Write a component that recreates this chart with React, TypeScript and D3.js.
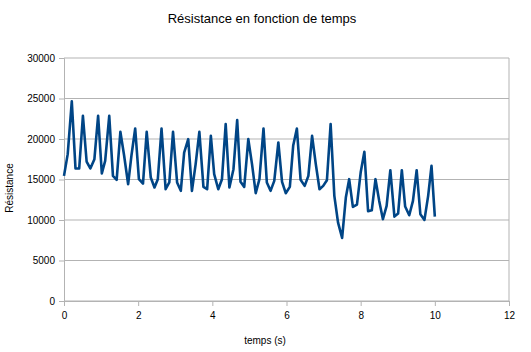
import { useRef, useEffect } from 'react';
import * as d3 from 'd3';

const times = [
  0, 0.1, 0.21, 0.31, 0.41, 0.51, 0.61, 0.71, 0.82, 0.92,
  1.02, 1.11, 1.22, 1.32, 1.42, 1.52, 1.62, 1.73, 1.82, 1.92,
  2.02, 2.13, 2.23, 2.34, 2.44, 2.53, 2.63, 2.74, 2.84, 2.94,
  3.05, 3.15, 3.24, 3.35, 3.45, 3.55, 3.65, 3.76, 3.86, 3.96,
  4.05, 4.16, 4.26, 4.36, 4.46, 4.57, 4.67, 4.76, 4.86, 4.97,
  5.07, 5.17, 5.27, 5.38, 5.47, 5.57, 5.67, 5.78, 5.88, 5.98,
  6.09, 6.18, 6.28, 6.38, 6.49, 6.59, 6.69, 6.79, 6.89, 6.99,
  7.09, 7.19, 7.29, 7.39, 7.5, 7.6, 7.69, 7.79, 7.9, 8.0,
  8.1, 8.2, 8.3, 8.4, 8.5, 8.6, 8.7, 8.8, 8.91, 9.01,
  9.11, 9.2, 9.31, 9.41, 9.51, 9.61, 9.72, 9.82, 9.91, 10.0,
];

const resistance = [
  15450, 18130, 24640, 16360, 16360, 22870, 17220, 16360, 17510, 22870,
  15740, 17300, 22870, 15450, 14960, 20890, 18000, 14420, 18000, 21300,
  15040, 14500, 20890, 15240, 14010, 15040, 21300, 13800, 14630, 20890,
  14630, 13600, 18330, 19980, 13600, 16900, 20890, 14090, 13800, 20390,
  15660, 13800, 15040, 21840, 14010, 16270, 22330, 14710, 14090, 19980,
  16900, 13310, 15040, 21300, 14630, 13600, 14830, 19570, 14710, 13310,
  14090, 19160, 21300, 14960, 14210, 15450, 20390, 16900, 13800, 14210,
  14910, 21840, 12980, 9680, 7790, 12770, 15040, 11620, 11910, 15860,
  18420, 11080, 11200, 15040, 12360, 10090, 11740, 16150, 10420, 10790,
  16150, 11660, 10590, 12360, 16150, 10710, 10010, 12980, 16690, 10420,
];

const xTicks = [0, 2, 4, 6, 8, 10, 12];
const yTicks = [0, 5000, 10000, 15000, 20000, 25000, 30000];

const title = 'Résistance en fonction de temps';
const xTitle = 'temps (s)';
const yTitle = 'Résistance';

export default function App() {
  const svgRef = useRef<SVGSVGElement>(null);

  useEffect(() => {
    if (!svgRef.current) return;
    const svg = d3.select(svgRef.current);
    svg.selectAll('*').remove();

    const font = '"Liberation Sans", Arial, sans-serif';
    const left = 64, right = 509, top = 58, bottom = 301;
    const gridColor = '#b3b3b3';

    const x = d3.scaleLinear().domain([0, 12]).range([left, right]);
    const y = d3.scaleLinear().domain([0, 30000]).range([bottom, top]);

    // horizontal grid
    svg.append('g')
      .selectAll('line')
      .data(yTicks)
      .join('line')
      .attr('x1', left)
      .attr('x2', right)
      .attr('y1', d => y(d))
      .attr('y2', d => y(d))
      .attr('stroke', gridColor)
      .attr('stroke-width', 1);

    // right border of the wall
    svg.append('line')
      .attr('x1', right).attr('x2', right)
      .attr('y1', top).attr('y2', bottom)
      .attr('stroke', gridColor);

    // Axes
    const yAxis = svg.append('g')
      .attr('transform', `translate(${left},0)`)
      .call(d3.axisLeft(y).tickValues(yTicks).tickSize(5).tickPadding(4).tickFormat(d => `${d}`));
    const xAxis = svg.append('g')
      .attr('transform', `translate(0,${bottom})`)
      .call(d3.axisBottom(x).tickValues(xTicks).tickSize(5).tickPadding(6).tickFormat(d => `${d}`));

    [xAxis, yAxis].forEach(a => {
      a.select('.domain').attr('stroke', gridColor);
      a.selectAll('.tick line').attr('stroke', gridColor);
      a.selectAll('text')
        .attr('fill', '#000')
        .style('font-family', font)
        .style('font-size', '10px');
    });

    // Signal line
    const points = times.map((t, i) => [t, resistance[i]] as [number, number]);
    const line = d3.line<[number, number]>()
      .x(d => x(d[0]))
      .y(d => y(d[1]));

    svg.append('path')
      .datum(points)
      .attr('fill', 'none')
      .attr('stroke', '#004586')
      .attr('stroke-width', 2.6)
      .attr('stroke-linejoin', 'round')
      .attr('d', line);

    // Titles
    svg.append('text')
      .attr('x', 262)
      .attr('y', 23)
      .attr('text-anchor', 'middle')
      .style('font-family', font)
      .style('font-size', '13px')
      .text(title);

    svg.append('text')
      .attr('x', 265)
      .attr('y', 344)
      .attr('text-anchor', 'middle')
      .style('font-family', font)
      .style('font-size', '10px')
      .text(xTitle);

    svg.append('text')
      .attr('transform', 'translate(13,188) rotate(-90)')
      .attr('text-anchor', 'middle')
      .style('font-family', font)
      .style('font-size', '10px')
      .text(yTitle);
  }, []);

  return (
    <svg
      ref={svgRef}
      width={531}
      height={352}
      style={{ position: 'absolute', left: 0, top: 0, background: '#fff' }}
    />
  );
}
